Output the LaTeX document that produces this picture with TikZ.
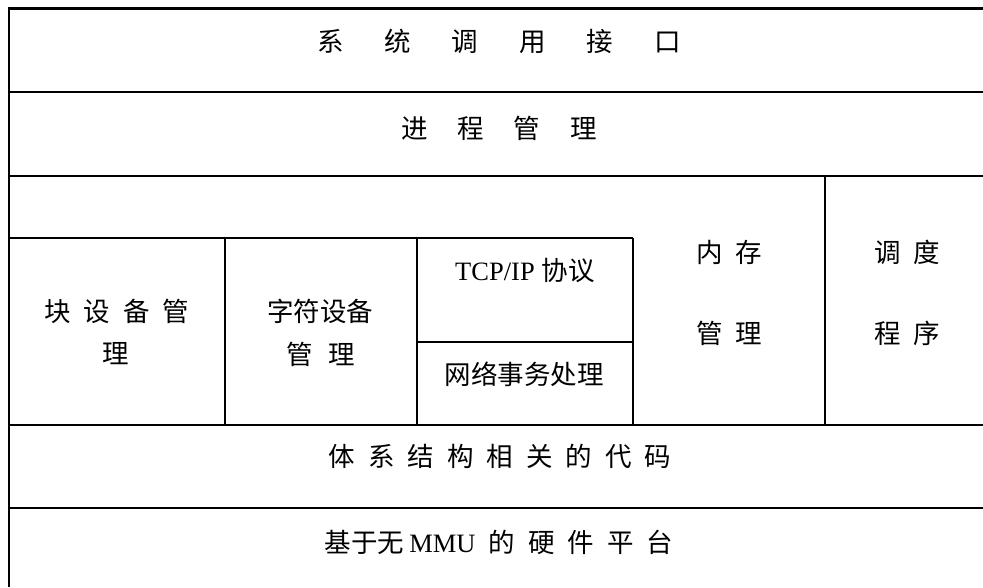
\documentclass[tikz,border=0pt]{standalone}
\usepackage{fontspec}
\setmainfont{Noto Sans CJK SC}
\newfontfamily\lat{Liberation Serif}
\newcommand\gp[1]{\hspace{#1pt}}
\begin{document}
\begin{tikzpicture}[x=1pt,y=-1pt,
  rule/.style={line width=2.1pt,black},
  lbl/.style={inner sep=0pt,font=\fontsize{26.5}{32}\selectfont,anchor=center}]
\useasboundingbox (0,0) rectangle (983,587);
\fill[white] (0,0) rectangle (983,587);
% frame lines
\coordinate (tl) at (9,8.5);
\coordinate (bl) at (9,587);
\draw[rule] (bl) -- (tl) -- (983,8.5);
\draw[rule] (9,92) -- (983,92);
\draw[rule] (9,176) -- (983,176);
\draw[rule] (9,238) -- (633,238);
\draw[rule] (417,342) -- (633,342);
\draw[rule] (9,425) -- (983,425);
\draw[rule] (9,508) -- (983,508);
\draw[rule] (225,238) -- (225,425);
\draw[rule] (417,238) -- (417,425);
\draw[rule] (633,238) -- (633,425);
\draw[rule] (825,176) -- (825,425);
% texts
\node[lbl] (syscall) at (499,41) {系\gp{41}统\gp{41}调\gp{41}用\gp{41}接\gp{41}口};
\node[lbl] (proc) at (499,128) {进\gp{30}程\gp{30}管\gp{30}理};
\node[lbl] (blk1) at (117,311) {块\gp{13}设\gp{13}备\gp{13}管};
\node[lbl] (blk2) at (116,354) {理};
\node[lbl] (chr1) at (320,311) {字符设备};
\node[lbl] (chr2) at (321,354) {管\gp{16}理};
\node[lbl] (tcp) at (525,271) {{\lat TCP/IP}\gp{7}协议};
\node[lbl] (net) at (524,374) {网络事务处理};
\node[lbl] (mem1) at (729,252) {内\gp{13}存};
\node[lbl] (mem2) at (729,333) {管\gp{13}理};
\node[lbl] (sch1) at (907,252) {调\gp{13}度};
\node[lbl] (sch2) at (907,333) {程\gp{13}序};
\node[lbl] (arch) at (500,456) {体\gp{13}系\gp{13}结\gp{13}构\gp{13}相\gp{13}关\gp{13}的\gp{13}代\gp{13}码};
\node[lbl] (hw) at (499,542) {基于无\gp{5}{\lat MMU}\gp{13}的\gp{13}硬\gp{13}件\gp{13}平\gp{13}台};
\end{tikzpicture}
\end{document}
